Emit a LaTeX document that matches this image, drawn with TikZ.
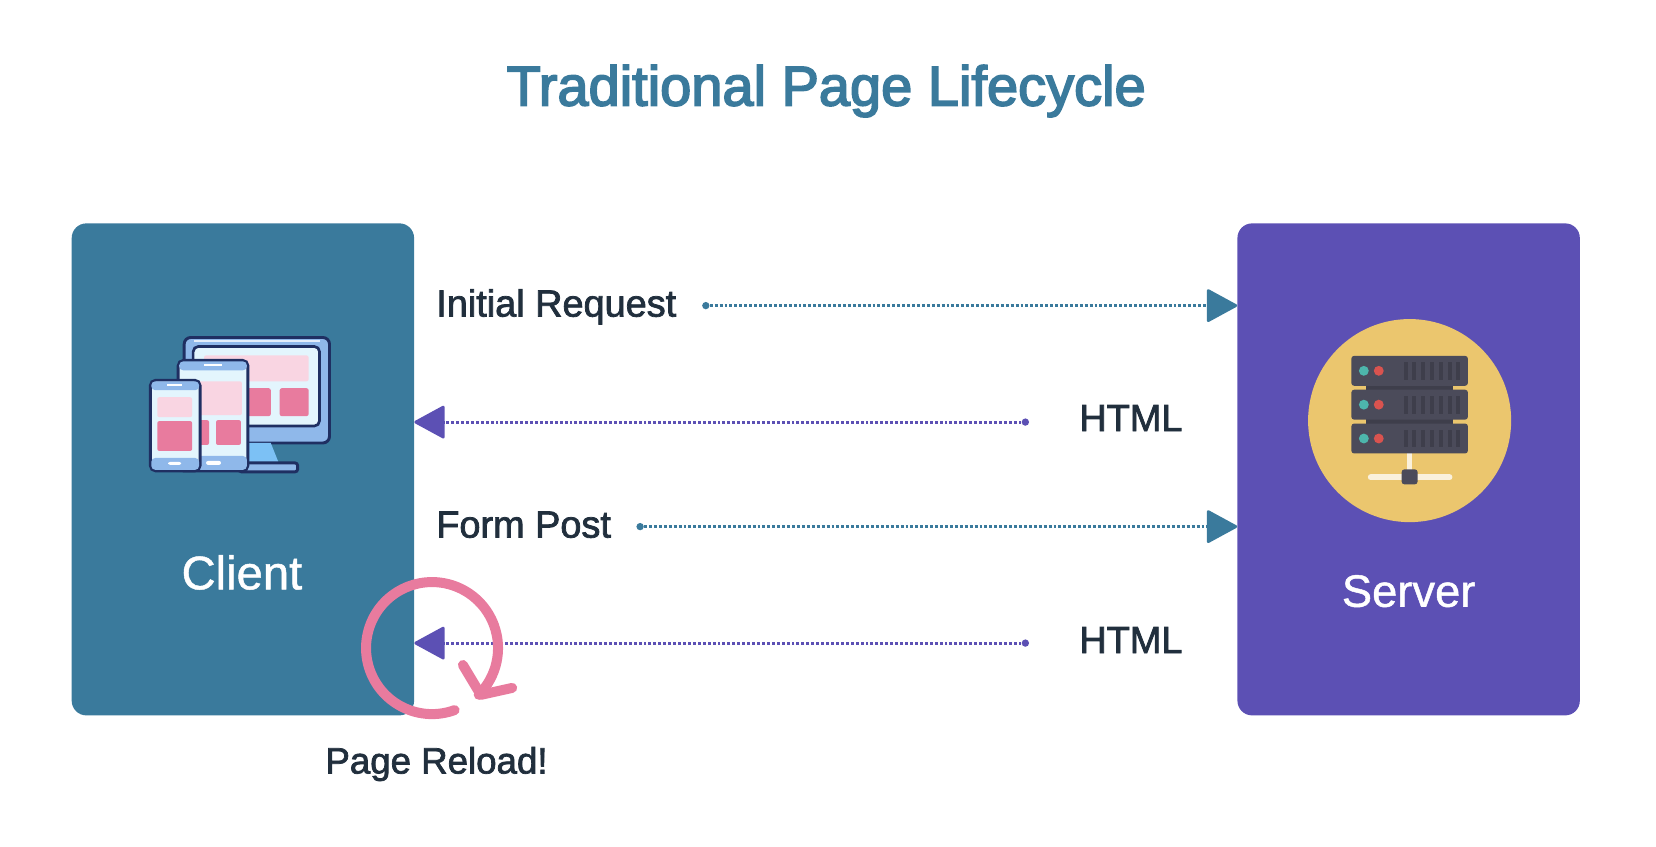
\documentclass[tikz,border=0pt]{standalone}
\usepackage{fontspec}
\setmainfont{Liberation Sans}
\newfontfamily\medfont[FakeBold=3]{Liberation Sans}
\newfontfamily\lblfont[FakeBold=2]{Liberation Sans}
\newfontfamily\panelfont[FakeBold=1]{Liberation Sans}
\usetikzlibrary{arrows.meta}
\definecolor{clientblue}{HTML}{3A7A9C}
\definecolor{serverpurple}{HTML}{5C50B4}
\definecolor{reloadpink}{HTML}{E87B9E}
\definecolor{labelink}{HTML}{212F3D}
\definecolor{iconline}{HTML}{1F2F62}
\definecolor{iconblue}{HTML}{8FB8EA}
\definecolor{iconsky}{HTML}{7CC1F5}
\definecolor{iconscreen}{HTML}{E3F5FD}
\definecolor{palepink}{HTML}{F9D5E2}
\definecolor{tilepink}{HTML}{E87B9E}
\definecolor{rackgrey}{HTML}{4B4B5A}
\definecolor{rackdark}{HTML}{3E3E4B}
\definecolor{ledteal}{HTML}{4DB6AC}
\definecolor{ledred}{HTML}{D9534F}
\definecolor{rackcream}{HTML}{FAF1DC}
\definecolor{discgold}{HTML}{EBC66E}
\tikzset{
  panel/.style={shape=rectangle,rounded corners=11pt,minimum width=256.8pt,minimum height=369pt,inner sep=0pt},
  lbl/.style={inner sep=0pt,text=labelink,font=\lblfont\fontsize{28.4}{30}\selectfont},
  paneltext/.style={inner sep=0pt,text=white,anchor=base},
  enddot/.style={shape=circle,inner sep=0pt,minimum size=5.5pt},
  tipend/.style={-{Triangle[length=24pt,width=25.5pt,round]},line width=2.2pt,dash pattern=on 2.2pt off 1.5pt},
  tile/.style={rounded corners=1.5pt}
}
\begin{document}
\begin{tikzpicture}[x=0.7466pt,y=-0.7466pt]
  \useasboundingbox (0,0) rectangle (1663.5,849.9);
  \node [inner sep=0pt,anchor=base,text=clientblue,font=\medfont\fontsize{42}{46}\selectfont] (title) at (830,106) {Traditional Page Lifecycle};
  \node [panel,fill=clientblue] (client) at (244,471.5) {};
  \node [panel,fill=serverpurple] (server) at (1415,471.5) {};
  \node [paneltext,font=\panelfont\fontsize{35.4}{38}\selectfont] (clientname) at (243,592) {Client};
  \node [paneltext,font=\panelfont\fontsize{34}{38}\selectfont] (servername) at (1415,609.5) {Server};
  % monitor
  \draw [iconline,line width=2.2pt,fill=iconblue,rounded corners=5pt] (185,339) rectangle (331,445);
  \draw [white!75!iconblue,line width=1pt] (195,342.5) -- (321,342.5);
  \fill [iconsky] (250,445) -- (272,445) -- (280,465) -- (250,465) -- cycle;
  \draw [iconline,line width=2.2pt,fill=iconblue,rounded corners=2pt] (240,465) rectangle (299,474);
  \draw [iconline,line width=2pt,fill=iconscreen,rounded corners=4pt] (194,348) rectangle (321,428);
  \fill [palepink,tile] (205,357) rectangle (310,383);
  \fill [tilepink,tile] (248,390) rectangle (272,418);
  \fill [tilepink,tile] (281,390) rectangle (310,418);
  % tablet
  \draw [iconline,line width=2.2pt,fill=iconscreen,rounded corners=4pt] (179,362) rectangle (249,473);
  \fill [iconblue,rounded corners=3pt] (180,363) rectangle (248,372);
  \fill [iconblue,rounded corners=3pt] (180,458) rectangle (248,472);
  \fill [palepink,tile] (200,383) rectangle (243,417);
  \fill [tilepink,tile] (200,422) rectangle (210,447);
  \fill [tilepink,tile] (217,422) rectangle (242,447);
  \fill [white] (205,366) rectangle (223,368);
  \fill [white,tile] (207,463) rectangle (222,467);
  % phone
  \draw [iconline,line width=2.2pt,fill=iconscreen,rounded corners=4pt] (151,382) rectangle (201,473);
  \fill [iconblue,rounded corners=3pt] (152,383) rectangle (200,392);
  \fill [iconblue,rounded corners=3pt] (152,460) rectangle (200,472);
  \fill [palepink,tile] (158,399) rectangle (193,419);
  \fill [tilepink,tile] (158,423) rectangle (193,453);
  \fill [white] (168,386) rectangle (183,388);
  \fill [white,tile] (169,464) rectangle (182,467);
  % server disc
  \node [shape=circle,fill=discgold,inner sep=0pt,minimum size=152.3pt] (disc) at (1416,422.5) {};
  \begin{scope}[shift={(1416,421.5)}]
    \fill [rackdark] (-44,-35) rectangle (44,5);
    \fill [rackcream] (-2.5,34) rectangle (2.5,54);
    \draw [rackcream,line width=4.5pt,line cap=round] (-39,58) -- (40,58);
    \fill [rackgrey,rounded corners=2pt] (-8,50) rectangle (8,65);
    \foreach \u in {-49,-15,19} {
      \fill [rackgrey,rounded corners=2pt] (-58.5,\u-15) rectangle (58.5,\u+15);
      \fill [ledteal] (-46,\u) circle [radius=3.7pt];
      \fill [ledred] (-31,\u) circle [radius=3.7pt];
      \foreach \v in {-3.7,4.7,13.7,22.3,31.3,40.3,49}
        \fill [rackdark] (\v-2,\u-9) rectangle (\v+2,\u+9);
    }
  \end{scope}
  % rows
  \node [lbl,anchor=base west] (reqlabel) at (438,318) {Initial Request};
  \node [lbl,anchor=base west] (htmlone) at (1084,433) {HTML};
  \node [lbl,anchor=base west] (formlabel) at (438,540) {Form Post};
  \node [lbl,anchor=base west] (htmltwo) at (1084,656) {HTML};
  \node [enddot,fill=clientblue] (d1) at (709,307) {};
  \node [enddot,fill=serverpurple] (d2) at (1030,424) {};
  \node [enddot,fill=clientblue] (d3) at (643,529) {};
  \node [enddot,fill=serverpurple] (d4) at (1030,646) {};
  \coordinate (t1) at (server.west |- d1);
  \coordinate (t2) at (client.east |- d2);
  \coordinate (t3) at (server.west |- d3);
  \coordinate (t4) at (client.east |- d4);
  \path [tipend,draw=clientblue,fill=clientblue] (d1) edge (t1) (d3) edge (t3);
  \path [tipend,draw=serverpurple,fill=serverpurple] (d2) edge (t2) (d4) edge (t4);
  % reload loop
  \coordinate (reload) at (434,651);
  \draw [reloadpink,line width=7.5pt,line cap=round] ([shift={(-70:49.5pt)}]reload) arc [start angle=-70,end angle=-405,radius=49.5pt];
  \draw [reloadpink,line width=7.5pt,line cap=round,line join=round] (465,668) -- (483,698) -- (514.5,691);
  \node [lbl,anchor=base,font=\lblfont\fontsize{27.5}{30}\selectfont] (reloadlabel) at (438.5,777) {Page Reload!};
\end{tikzpicture}
\end{document}
